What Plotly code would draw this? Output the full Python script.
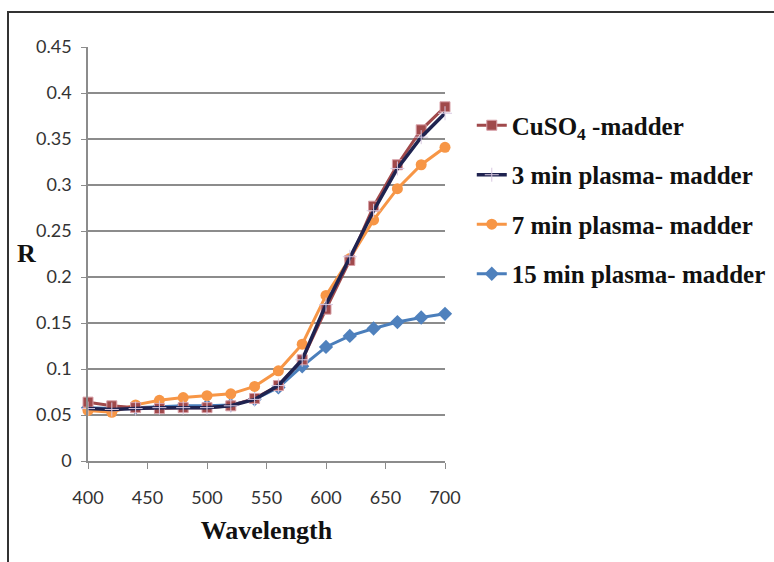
import plotly.graph_objects as go

wavelength = [400, 420, 440, 460, 480, 500, 520, 540, 560, 580, 600, 620, 640, 660, 680, 700]
cuso4 = [0.064, 0.060, 0.058, 0.057, 0.058, 0.058, 0.060, 0.068, 0.082, 0.110, 0.165, 0.218, 0.277, 0.322, 0.360, 0.385]
plasma3 = [0.057, 0.056, 0.057, 0.058, 0.058, 0.058, 0.060, 0.067, 0.082, 0.110, 0.170, 0.222, 0.272, 0.318, 0.352, 0.378]
plasma7 = [0.055, 0.053, 0.061, 0.066, 0.069, 0.071, 0.073, 0.081, 0.098, 0.127, 0.180, 0.220, 0.262, 0.296, 0.322, 0.341]
plasma15 = [0.058, 0.057, 0.058, 0.059, 0.060, 0.060, 0.061, 0.067, 0.080, 0.103, 0.124, 0.136, 0.144, 0.151, 0.156, 0.160]
names = ["CuSO<sub>4</sub> -madder", "3 min plasma- madder", "7 min plasma- madder", "15 min plasma- madder"]
y_ticks = [0, 0.05, 0.1, 0.15, 0.2, 0.25, 0.3, 0.35, 0.4, 0.45]
y_labels = ["0", "0.05", "0.1", "0.15", "0.2", "0.25", "0.3", "0.35", "0.4", "0.45"]
x_ticks = [400, 450, 500, 550, 600, 650, 700]

fig = go.Figure()
fig.add_trace(go.Scatter(x=wavelength, y=plasma15, name="<b>" + names[3] + "</b>", legendrank=4, legendgroup="d",
                         mode="lines+markers", line=dict(color="#4A7EBB", width=3),
                         marker=dict(symbol="diamond", size=11, color="#4F81BD")))
fig.add_trace(go.Scatter(x=wavelength, y=plasma7, name="<b>" + names[2] + "</b>", legendrank=3, legendgroup="c",
                         mode="lines+markers", line=dict(color="#F79646", width=3),
                         marker=dict(symbol="circle", size=11, color="#F79646")))
fig.add_trace(go.Scatter(x=wavelength, y=cuso4, name="<b>" + names[0] + "</b>", legendrank=1, legendgroup="a",
                         mode="lines+markers", line=dict(color="#A0494B", width=3),
                         marker=dict(symbol="square", size=10, color="#A0494B",
                                     line=dict(color="#D8A0A8", width=1))))
fig.add_trace(go.Scatter(x=wavelength, y=plasma3, name="<b>" + names[1] + "</b>", legendrank=2, legendgroup="b",
                         mode="lines+markers", line=dict(color="#1F2350", width=3.5),
                         marker=dict(symbol="cross-thin", size=10, color="#D8C8E0",
                                     line=dict(color="#D8C8E0", width=1))))

fig.update_layout(
    width=774, height=562,
    margin=dict(l=88, r=329, t=47, b=101, autoexpand=False),
    paper_bgcolor="white", plot_bgcolor="white",
    showlegend=True,
    legend=dict(x=1.075, y=0.866, xanchor="left", yanchor="top",
                font=dict(family="Liberation Serif", size=25, color="#111111"),
                traceorder="grouped", tracegroupgap=14, itemwidth=30,
                bgcolor="rgba(0,0,0,0)"),
    xaxis=dict(range=[400, 700], tickvals=x_ticks,
               showgrid=False, showline=True, linecolor="#8C8C8C", linewidth=1.5,
               ticks="outside", ticklen=6, tickcolor="#8C8C8C",
               ticklabelstandoff=14,
               tickfont=dict(family="Lato", size=18, color="#333333"),
               title=dict(text="<b>Wavelength</b>", font=dict(family="Liberation Serif", size=26, color="#111111"),
                          standoff=13),
               zeroline=False, automargin=False),
    yaxis=dict(range=[0, 0.45], tickvals=y_ticks, ticktext=y_labels,
               showgrid=True, gridcolor="#8C8C8C", gridwidth=1.5,
               showline=True, linecolor="#8C8C8C", linewidth=1.5,
               ticks="outside", ticklen=5, tickcolor="#8C8C8C",
               ticklabelstandoff=6,
               tickfont=dict(family="Lato", size=18, color="#333333"),
               zeroline=False, automargin=False),
    font=dict(family="Liberation Serif"),
)
fig.update_traces(cliponaxis=False)

fig.add_annotation(text="<b>R</b>", xref="paper", yref="paper",
                   x=(15 - 88) / 357, y=(461 - 253) / 414, showarrow=False,
                   font=dict(family="Liberation Serif", size=26, color="#111111"))

fig.add_shape(type="rect", xref="paper", yref="paper",
              x0=(8 - 88) / 357, x1=(790 - 88) / 357,
              y0=(461 - 580) / 414, y1=(461 - 12) / 414,
              line=dict(color="#333333", width=2), layer="below")

fig.write_html("out.html")
